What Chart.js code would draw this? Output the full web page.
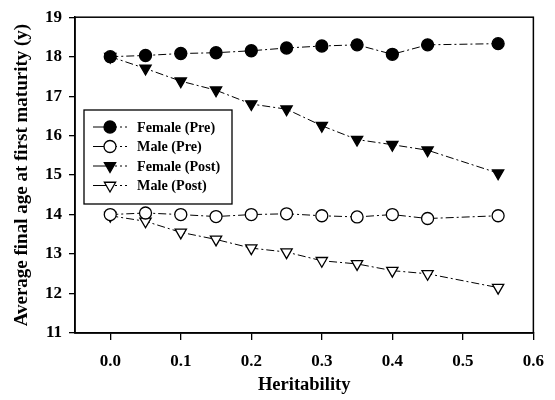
<!DOCTYPE html>
<html><head><meta charset="utf-8">
<script src="https://cdn.jsdelivr.net/npm/chart.js@4"></script>
<style>html,body{margin:0;padding:0;background:#fff}#wrap{width:555px;height:400px}</style>
</head><body><div id="wrap"><canvas id="c" width="555" height="400"></canvas></div>
<script>
const heritability = [0.0, 0.05, 0.1, 0.15, 0.2, 0.25, 0.3, 0.35, 0.4, 0.45, 0.55];
const femalePre  = [18.0, 18.03, 18.08, 18.1, 18.15, 18.22, 18.27, 18.3, 18.06, 18.3, 18.33];
const malePre    = [14.0, 14.04, 14.0, 13.95, 14.0, 14.02, 13.97, 13.94, 14.0, 13.9, 13.97];
const femalePost = [18.0, 17.7, 17.38, 17.15, 16.8, 16.67, 16.25, 15.9, 15.77, 15.63, 15.05];
const malePost   = [13.97, 13.83, 13.55, 13.37, 13.15, 13.05, 12.83, 12.75, 12.58, 12.5, 12.15];
const seriesNames = ['Female (Pre)', 'Male (Pre)', 'Female (Post)', 'Male (Post)'];
const xTicks = [0.0, 0.1, 0.2, 0.3, 0.4, 0.5, 0.6];
const yTicks = [11, 12, 13, 14, 15, 16, 17, 18, 19];

const pts = ys => heritability.map((x, i) => ({x, y: ys[i]}));
const base = {borderColor:'#000', borderWidth:1, borderDash:[8,3,2,3], pointBorderColor:'#000', pointBorderWidth:1.3, showLine:true, tension:0};
const datasets = [
  {...base, label: seriesNames[0], data: pts(femalePre), pointStyle:'circle', pointRadius:6, pointBackgroundColor:'#000'},
  {...base, label: seriesNames[1], data: pts(malePre), pointStyle:'circle', pointRadius:6, pointBackgroundColor:'#fff'},
  {...base, label: seriesNames[2], data: pts(femalePost), pointStyle:'triangle', rotation:180, pointRadius:6.5, pointBackgroundColor:'#000'},
  {...base, label: seriesNames[3], data: pts(malePost), pointStyle:'triangle', rotation:180, pointRadius:6.5, pointBackgroundColor:'#fff'}
];

const frame = {
  id:'frame',
  afterDatasetsDraw(chart){
    const {ctx, chartArea:a} = chart;
    ctx.save();
    ctx.strokeStyle='#000'; ctx.lineWidth=1.5;
    ctx.strokeRect(a.left, a.top, a.right-a.left, a.bottom-a.top);
    // legend box
    const bx = 84, by = 110, bw = 148, bh = 94;
    ctx.fillStyle='#fff'; ctx.fillRect(bx, by, bw, bh);
    ctx.lineWidth=1.3; ctx.strokeRect(bx, by, bw, bh);
    ctx.font = 'bold 14.2px "Liberation Serif"';
    ctx.textBaseline='middle'; ctx.textAlign='left';
    chart.data.datasets.forEach((ds, i) => {
      const y = by + 17 + i*19.5;
      const mx = bx + 26;
      ctx.strokeStyle='#000'; ctx.lineWidth=1;
      ctx.setLineDash([]);
      ctx.beginPath(); ctx.moveTo(bx+9, y); ctx.lineTo(mx, y); ctx.stroke();
      ctx.setLineDash([2,3]);
      ctx.beginPath(); ctx.moveTo(mx, y); ctx.lineTo(bx+46, y); ctx.stroke();
      ctx.setLineDash([]);
      ctx.fillStyle = ds.pointBackgroundColor; ctx.strokeStyle='#000'; ctx.lineWidth=1.3;
      Chart.helpers.drawPoint(ctx, {pointStyle: ds.pointStyle, rotation: ds.rotation||0, radius: ds.pointRadius, borderWidth: 1.3}, mx, y);
      ctx.fillStyle='#000';
      ctx.fillText(ds.label, bx+53, y+1);
    });
    ctx.restore();
  }
};

new Chart(document.getElementById('c'), {
  type:'scatter',
  data:{datasets},
  plugins:[frame],
  options:{
    responsive:false, animation:false, devicePixelRatio:1,
    layout:{padding:{top:17, right:20, left:0, bottom:0}},
    plugins:{legend:{display:false}, tooltip:{enabled:false}},
    scales:{
      x:{type:'linear', min:-0.05, max:0.6,
        afterBuildTicks(s){ s.ticks = xTicks.map(v=>({value:v})); },
        afterFit(s){ s.height = 67; },
        grid:{drawOnChartArea:false, drawTicks:true, tickLength:7, color:'#000', lineWidth:1.3},
        border:{display:true, color:'#000', width:1.5},
        ticks:{color:'#000', font:{family:'Liberation Serif', weight:'bold', size:17}, padding:11, callback:v=>v.toFixed(1)},
        title:{display:true, text:'Heritability', color:'#000', font:{family:'Liberation Serif', weight:'bold', size:18.5}, padding:{top:10, bottom:4}}
      },
      y:{type:'linear', min:11, max:19,
        afterBuildTicks(s){ s.ticks = yTicks.map(v=>({value:v})); },
        afterFit(s){ s.width = 75; },
        grid:{drawOnChartArea:false, drawTicks:true, tickLength:6, color:'#000', lineWidth:1.3},
        border:{display:true, color:'#000', width:1.5},
        ticks:{color:'#000', font:{family:'Liberation Serif', weight:'bold', size:17}, padding:7},
        title:{display:true, text:'Average final age at first maturity (y)', color:'#000', font:{family:'Liberation Serif', weight:'bold', size:19}, padding:{top:11, bottom:4}}
      }
    }
  }
});
</script></body></html>
